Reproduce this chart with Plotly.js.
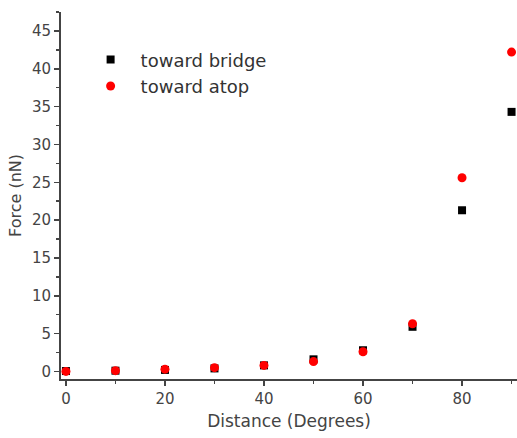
<!DOCTYPE html>
<html><head><meta charset="utf-8">
<script src="https://cdn.plot.ly/plotly-3.0.1.min.js"></script>
<style>html,body{margin:0;padding:0;background:#fff}</style>
</head><body><div id="chart" style="width:517px;height:438px"></div>
<script>
const distance = [0, 10, 20, 30, 40, 50, 60, 70, 80, 90];
const towardBridge = [0.05, 0.1, 0.2, 0.4, 0.8, 1.6, 2.8, 5.9, 21.3, 34.3];
const towardAtop = [0.0, 0.1, 0.3, 0.5, 0.8, 1.3, 2.6, 6.3, 25.6, 42.2];
const xTicks = [0, 20, 40, 60, 80];
const yTicks = [0, 5, 10, 15, 20, 25, 30, 35, 40, 45];

const traces = [
  {x: distance, y: towardBridge, name: 'toward bridge', type: 'scatter', mode: 'markers',
   marker: {symbol: 'square', size: 8, color: '#000000'}},
  {x: distance, y: towardAtop, name: 'toward atop', type: 'scatter', mode: 'markers',
   marker: {symbol: 'circle', size: 9, color: '#ff0000'}}
];
const fam = 'DejaVu Sans, sans-serif';
const axisFont = {family: fam, size: 15, color: '#444'};
const layout = {
  width: 517, height: 438,
  margin: {l: 61, r: 0, t: 12, b: 59},
  paper_bgcolor: '#fff', plot_bgcolor: '#fff',
  showlegend: true,
  legend: {x: 0.043, y: 0.92, xanchor: 'left', yanchor: 'top', bgcolor: 'rgba(0,0,0,0)',
           itemwidth: 50,
           font: {family: fam, size: 18, color: '#333'},
           tracegroupgap: 0},
  xaxis: {range: [-1, 91.1], tickvals: xTicks, ticktext: xTicks.map(String),
          showgrid: false, zeroline: false, showline: true, linecolor: '#444', linewidth: 2,
          ticks: 'outside', ticklen: 5, tickwidth: 1.5, tickcolor: '#444',
          minor: {dtick: 10, tick0: 0, ticks: 'outside', ticklen: 3, tickwidth: 1.5, tickcolor: '#444'},
          tickfont: axisFont,
          title: {text: 'Distance (Degrees)', font: {family: fam, size: 17, color: '#444'}, standoff: 8}},
  yaxis: {range: [-1, 47.5], tickvals: yTicks, ticktext: yTicks.map(String),
          showgrid: false, zeroline: false, showline: true, linecolor: '#444', linewidth: 2,
          ticks: 'outside', ticklen: 5, tickwidth: 1.5, tickcolor: '#444',
          minor: {dtick: 2.5, tick0: 0, ticks: 'outside', ticklen: 3, tickwidth: 1.5, tickcolor: '#444'},
          tickfont: axisFont,
          title: {text: 'Force (nN)', font: {family: fam, size: 16, color: '#444'}, standoff: 6}}
};
Plotly.newPlot('chart', traces, layout, {displayModeBar: false, staticPlot: true});
</script></body></html>
